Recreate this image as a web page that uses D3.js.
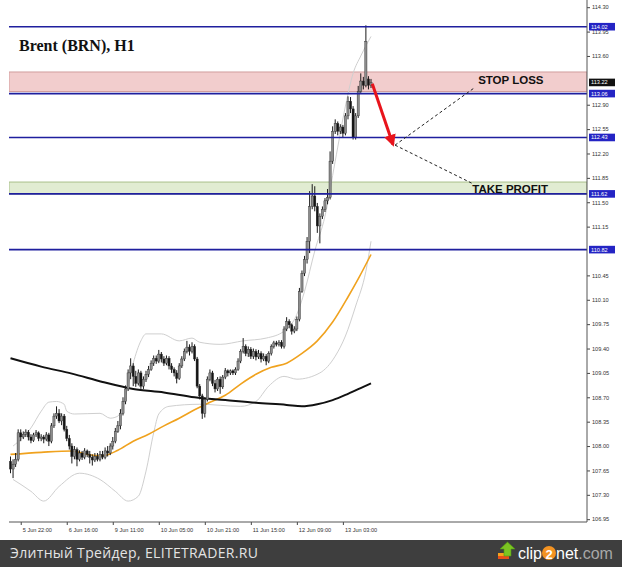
<!DOCTYPE html>
<html><head><meta charset="utf-8">
<script src="https://cdn.jsdelivr.net/npm/d3@7"></script>
<style>body{margin:0;background:#fff}svg{display:block}</style>
</head><body>
<svg id="c" width="622" height="567"></svg>
<script>
// ---------- DATA ----------
const open=[107.78,107.67,107.74,107.81,108.19,108.13,108.17,108.20,108.13,108.08,108.16,108.19,108.11,108.13,108.10,108.16,108.07,108.29,108.43,108.47,108.36,108.43,108.24,108.11,108.00,107.85,107.95,107.81,107.90,107.84,107.93,107.88,107.84,107.80,107.85,107.81,107.88,107.84,107.93,107.90,108.00,108.07,108.21,108.29,108.47,108.64,108.82,109.05,109.15,109.00,108.90,109.05,108.86,108.96,109.03,109.10,109.19,109.26,109.22,109.32,109.25,109.19,109.26,109.15,109.10,109.05,108.97,109.15,109.25,109.36,109.42,109.36,109.43,109.25,108.86,108.72,108.47,108.67,108.96,109.05,108.90,108.82,108.96,108.85,108.99,109.08,109.05,109.08,109.05,109.10,109.22,109.36,109.43,109.33,109.39,109.29,109.36,109.28,109.33,109.25,109.29,109.22,109.33,109.43,109.48,109.46,109.49,109.43,109.68,109.79,109.74,109.65,109.68,109.82,110.22,110.48,110.68,110.94,111.44,111.59,111.44,111.16,111.30,111.40,111.52,111.57,112.09,112.52,112.63,112.52,112.58,112.49,112.74,112.95,112.84,112.43,112.74,113.09,113.24,113.18,113.27,113.18];
const high=[107.85,107.81,107.90,108.24,108.24,108.21,108.24,108.23,108.17,108.19,108.23,108.21,108.17,108.16,108.20,108.19,108.33,108.47,108.57,108.53,108.47,108.46,108.29,108.16,108.04,108.00,107.98,107.94,107.93,107.97,107.95,107.93,107.88,107.90,107.90,107.93,107.93,107.98,108.00,108.04,108.13,108.26,108.36,108.53,108.70,108.87,109.10,109.26,109.19,109.08,109.10,109.08,109.00,109.08,109.15,109.23,109.30,109.30,109.38,109.35,109.29,109.30,109.29,109.19,109.13,109.09,109.19,109.29,109.40,109.51,109.46,109.49,109.46,109.28,108.89,108.75,108.70,109.00,109.10,109.08,108.95,108.99,109.00,109.02,109.12,109.10,109.10,109.10,109.13,109.26,109.39,109.55,109.46,109.43,109.42,109.40,109.39,109.38,109.36,109.33,109.32,109.36,109.46,109.51,109.51,109.52,109.52,109.72,109.85,109.82,109.76,109.72,109.86,110.27,110.52,110.73,111.00,111.66,111.76,111.73,111.49,111.34,111.44,111.56,111.69,112.23,112.59,112.69,112.66,112.62,112.61,112.78,113.02,113.01,112.88,112.78,113.17,113.35,113.30,114.04,113.31,113.27];
const low=[107.61,107.54,107.70,107.78,108.07,108.10,108.13,108.08,108.04,108.06,108.13,108.07,108.07,108.04,108.07,108.00,108.04,108.26,108.39,108.33,108.30,108.21,108.07,107.95,107.75,107.81,107.71,107.78,107.80,107.81,107.84,107.75,107.72,107.77,107.78,107.78,107.81,107.81,107.85,107.87,107.95,108.04,108.19,108.24,108.44,108.60,108.79,108.96,108.86,108.85,108.87,108.82,108.82,108.92,108.99,109.08,109.15,109.18,109.19,109.20,109.15,109.16,109.10,109.05,109.00,108.90,108.95,109.12,109.22,109.33,109.30,109.33,109.22,108.83,108.67,108.39,108.41,108.64,108.93,108.86,108.77,108.79,108.75,108.82,108.96,109.00,109.02,109.02,109.02,109.08,109.19,109.33,109.29,109.28,109.25,109.25,109.23,109.25,109.20,109.22,109.16,109.19,109.30,109.40,109.43,109.43,109.40,109.40,109.65,109.69,109.60,109.62,109.65,109.79,110.20,110.44,110.62,110.77,111.40,111.37,111.06,110.91,111.26,111.36,111.47,111.54,112.05,112.48,112.46,112.48,112.43,112.46,112.69,112.78,112.40,112.40,112.71,113.07,113.12,113.15,113.12,113.14];
const close=[107.67,107.74,107.81,108.19,108.13,108.17,108.20,108.13,108.08,108.16,108.19,108.11,108.13,108.10,108.16,108.07,108.29,108.43,108.47,108.36,108.43,108.24,108.11,108.00,107.85,107.95,107.81,107.90,107.84,107.93,107.88,107.84,107.80,107.85,107.81,107.88,107.84,107.93,107.90,108.00,108.07,108.21,108.29,108.47,108.64,108.82,109.05,109.15,109.00,108.90,109.05,108.86,108.96,109.03,109.10,109.19,109.26,109.22,109.32,109.25,109.19,109.26,109.15,109.10,109.05,108.97,109.15,109.25,109.36,109.42,109.36,109.43,109.25,108.86,108.72,108.47,108.67,108.96,109.05,108.90,108.82,108.96,108.85,108.99,109.08,109.05,109.08,109.05,109.10,109.22,109.36,109.43,109.33,109.39,109.29,109.36,109.28,109.33,109.25,109.29,109.22,109.33,109.43,109.48,109.46,109.49,109.43,109.68,109.79,109.74,109.65,109.68,109.82,110.22,110.48,110.68,110.94,111.44,111.59,111.44,111.16,111.30,111.40,111.52,111.57,112.09,112.52,112.63,112.52,112.58,112.49,112.74,112.95,112.84,112.43,112.74,113.09,113.24,113.18,113.81,113.18,113.22];

const maSlowIdx=[0,12,24,36,48,60,72,84,96,108,114,120,126,132,138,141];
const maSlow=[109.26,109.14,109.04,108.92,108.82,108.77,108.70,108.66,108.62,108.59,108.57,108.60,108.66,108.75,108.85,108.90];
const maFastIdx=[0,12,24,30,36,42,48,54,60,66,72,78,84,90,96,102,108,114,120,126,132,136,141];
const maFast=[107.88,107.91,107.93,107.88,107.86,107.94,108.07,108.17,108.29,108.40,108.52,108.63,108.73,108.89,109.03,109.13,109.19,109.33,109.51,109.78,110.14,110.40,110.75];
const bbUpIdx=[1,8,12,15,18,21,22,25,35,39,42,45,48,51,53,59,66,71,74,82,91,100,107,112,115,119,123,127,131,134,137,141];
const bbUp=[108.00,108.26,108.50,108.63,108.64,108.60,108.50,108.46,108.47,108.40,108.43,108.72,109.19,109.51,109.61,109.61,109.51,109.55,109.49,109.46,109.51,109.55,109.65,109.89,110.22,110.80,111.30,112.09,112.88,113.35,113.60,113.88];
const bbLoIdx=[1,8,13,19,27,35,41,46,50,53,56,58,62,74,90,96,101,107,112,121,127,131,135,139,141];
const bbLo=[107.52,107.35,107.21,107.42,107.61,107.52,107.35,107.21,107.28,107.64,108.19,108.46,108.57,108.60,108.57,108.64,108.86,109.00,108.96,109.05,109.29,109.58,110.01,110.51,110.94];

const levels=[114.02,113.06,112.43,111.62,110.82];
const bidPrice=113.22;
const stopZone=[113.09,113.37];
const takeZone=[111.62,111.79];
// scale ticks (110.80 and 113.25 sit under the price boxes and are not shown)
const yTicks=[106.95,107.30,107.65,108.00,108.35,108.70,109.05,109.40,109.75,110.10,110.45,111.15,111.50,111.85,112.20,112.55,112.90,113.60,113.95,114.30];
const xTickIdx=[4,22,40,58,76,94,112,130];
const xTickLabels=["5 Jun 22:00","6 Jun 16:00","9 Jun 11:00","10 Jun 05:00","10 Jun 21:00","11 Jun 15:00","12 Jun 09:00","13 Jun 03:00"];
const title="Brent (BRN), H1";
const arrowFrom=[141.5,113.20], arrowTo=[149.6,112.33];
const dashStart=[150.4,112.32], dashStop=[181.7,113.15], dashTake=[180.6,111.77];
const stopLabel={text:"STOP LOSS",idx:182.9,val:113.25};
const takeLabel={text:"TAKE PROFIT",idx:180.6,val:111.69};

// ---------- CHART ----------
const svg=d3.select("#c");
const L=9,R=587,B=522;
const x=d3.scaleLinear().domain([0,141]).range([10.5,371]);
const y=d3.scaleLinear().domain([106.95,114.30]).range([519.2,7.2]);

svg.append("defs").append("clipPath").attr("id","pc").append("rect")
  .attr("x",L).attr("y",0).attr("width",R-L).attr("height",B);
const marker=svg.select("defs").append("marker").attr("id","ah")
  .attr("markerUnits","userSpaceOnUse").attr("markerWidth",12).attr("markerHeight",12)
  .attr("refX",8).attr("refY",5).attr("orient","auto").attr("viewBox","0 0 10 10");
marker.append("path").attr("d","M0,0 L10,5 L0,10 Z").attr("fill","#e8141c");

const plot=svg.append("g").attr("clip-path","url(#pc)");

// zones
plot.append("rect").attr("x",L).attr("width",R-L)
  .attr("y",y(stopZone[1])).attr("height",y(stopZone[0])-y(stopZone[1]))
  .attr("fill","#f2cdcd").attr("stroke","#d29d9d").attr("stroke-width",1);
plot.append("rect").attr("x",L).attr("width",R-L)
  .attr("y",y(takeZone[1])).attr("height",y(takeZone[0])-y(takeZone[1]))
  .attr("fill","#e1ecd2").attr("stroke","#a9c08a").attr("stroke-width",1);

// bollinger
const bandLine=d3.line().curve(d3.curveMonotoneX).x(d=>x(d[0])).y(d=>y(d[1]));
plot.append("path").attr("d",bandLine(bbUpIdx.map((d,i)=>[d,bbUp[i]])))
  .attr("fill","none").attr("stroke","#cfcfcf").attr("stroke-width",1);
plot.append("path").attr("d",bandLine(bbLoIdx.map((d,i)=>[d,bbLo[i]])))
  .attr("fill","none").attr("stroke","#cfcfcf").attr("stroke-width",1);

// moving averages
plot.append("path").attr("d",bandLine(maFastIdx.map((d,i)=>[d,maFast[i]])))
  .attr("fill","none").attr("stroke","#f0a21e").attr("stroke-width",1.6);
plot.append("path").attr("d",bandLine(maSlowIdx.map((d,i)=>[d,maSlow[i]])))
  .attr("fill","none").attr("stroke","#111").attr("stroke-width",2);

// candles
const candles=plot.append("g");
open.forEach((o,i)=>{
  const c=close[i], xi=x(i);
  candles.append("line").attr("x1",xi).attr("x2",xi).attr("y1",y(high[i])).attr("y2",y(low[i]))
    .attr("stroke","#1a1a1a").attr("stroke-width",1);
  const top=y(Math.max(o,c)), bot=y(Math.min(o,c));
  candles.append("rect").attr("x",xi-1.1).attr("width",2.2)
    .attr("y",top).attr("height",Math.max(1,bot-top))
    .attr("fill",c>=o?"#8c8c8c":"#151515").attr("stroke","#2a2a2a").attr("stroke-width",0.4);
});

// horizontal levels
levels.forEach(v=>{
  plot.append("line").attr("x1",L).attr("x2",R).attr("y1",y(v)).attr("y2",y(v))
    .attr("stroke","#1f1f9e").attr("stroke-width",1.6);
});

// dashed annotation lines
[dashStop,dashTake].forEach(p=>{
  plot.append("line").attr("x1",x(dashStart[0])).attr("y1",y(dashStart[1]))
    .attr("x2",x(p[0])).attr("y2",y(p[1]))
    .attr("stroke","#222").attr("stroke-width",1).attr("stroke-dasharray","3,2.5");
});
// red arrow
plot.append("line").attr("x1",x(arrowFrom[0])).attr("y1",y(arrowFrom[1]))
  .attr("x2",x(arrowTo[0])).attr("y2",y(arrowTo[1]))
  .attr("stroke","#e8141c").attr("stroke-width",3).attr("marker-end","url(#ah)");

// labels
[stopLabel,takeLabel].forEach(l=>{
  svg.append("text").attr("x",x(l.idx)).attr("y",y(l.val)).attr("dy","0.35em")
    .attr("font-family","Liberation Sans, Arial, sans-serif").attr("font-weight","bold")
    .attr("font-size",11.5).attr("fill","#111").text(l.text);
});
svg.append("text").attr("x",19).attr("y",51)
  .attr("font-family","Liberation Serif, Times New Roman, serif").attr("font-weight","bold")
  .attr("font-size",16).attr("fill","#111").text(title);

// right axis
const ya=svg.append("g").attr("transform",`translate(${R},0)`)
  .call(d3.axisRight(y).tickValues(yTicks).tickSize(3).tickPadding(2).tickFormat(d3.format(".2f")));
ya.select(".domain").remove();
ya.selectAll("text").attr("font-size",5.6).attr("font-family","Liberation Sans, Arial, sans-serif").attr("fill","#333");
ya.selectAll("line").attr("stroke","#444");
svg.append("line").attr("x1",R).attr("x2",R).attr("y1",0).attr("y2",B).attr("stroke","#555").attr("stroke-width",1);

// bottom axis
const xa=svg.append("g").attr("transform",`translate(0,${B})`)
  .call(d3.axisBottom(x).tickValues(xTickIdx).tickSize(3).tickPadding(3).tickFormat((d,i)=>xTickLabels[i]));
xa.select(".domain").remove();
xa.selectAll("text").attr("text-anchor","start").attr("dx",1.5).attr("font-size",5.6)
  .attr("font-family","Liberation Sans, Arial, sans-serif").attr("fill","#333");
xa.selectAll("line").attr("stroke","#444");
svg.append("line").attr("x1",L).attr("x2",R).attr("y1",B).attr("y2",B).attr("stroke","#555").attr("stroke-width",1);

// level price boxes
levels.concat([bidPrice]).forEach((v,k)=>{
  const isBid=(v===bidPrice);
  svg.append("rect").attr("x",589).attr("y",y(v)-3.8).attr("width",26).attr("height",7.6)
    .attr("fill",isBid?"#111":"#2424c4");
  svg.append("text").attr("x",591).attr("y",y(v)).attr("dy","0.35em")
    .attr("font-size",5.6).attr("font-family","Liberation Sans, Arial, sans-serif")
    .attr("fill","#fff").text(d3.format(".2f")(v));
});

// footer bar
svg.append("rect").attr("x",0).attr("y",540).attr("width",622).attr("height",27).attr("fill","#3e3e3e");
svg.append("text").attr("x",10).attr("y",558).attr("font-size",14)
  .attr("font-family","Open Sans, DejaVu Sans, sans-serif").attr("fill","#e4e4e4")
  .attr("textLength",248).attr("lengthAdjust","spacing").text("Элитный Трейдер, ELITETRADER.RU");
// clip2net logo
const lg=svg.append("g");
lg.append("rect").attr("x",498).attr("y",553).attr("width",11).attr("height",6).attr("fill","#e8501a");
lg.append("rect").attr("x",498).attr("y",553).attr("width",11).attr("height",3).attr("fill","#f7a21b");
lg.append("path").attr("d","M504,556 L504,549 L500,549 L507.5,542 L515,549 L511,549 L511,556 Z").attr("fill","#7cc522").attr("stroke","#4f9a12").attr("stroke-width",0.6);
const t=lg.append("text").attr("x",518).attr("y",559).attr("font-size",16)
  .attr("font-family","Liberation Sans, Arial, sans-serif").attr("fill","#fff");
t.append("tspan").text("clip");
lg.append("circle").attr("cx",549).attr("cy",553).attr("r",7).attr("fill","#f39322");
lg.append("text").attr("x",549).attr("y",558.5).attr("text-anchor","middle").attr("font-size",13)
  .attr("font-weight","bold").attr("font-family","Liberation Sans, Arial, sans-serif").attr("fill","#fff").text("2");
const t2=lg.append("text").attr("x",556).attr("y",559).attr("font-size",16)
  .attr("font-family","Liberation Sans, Arial, sans-serif");
t2.append("tspan").attr("fill","#fff").text("net");
t2.append("tspan").attr("fill","#a8a8a8").text(".com");
</script>
</body></html>
